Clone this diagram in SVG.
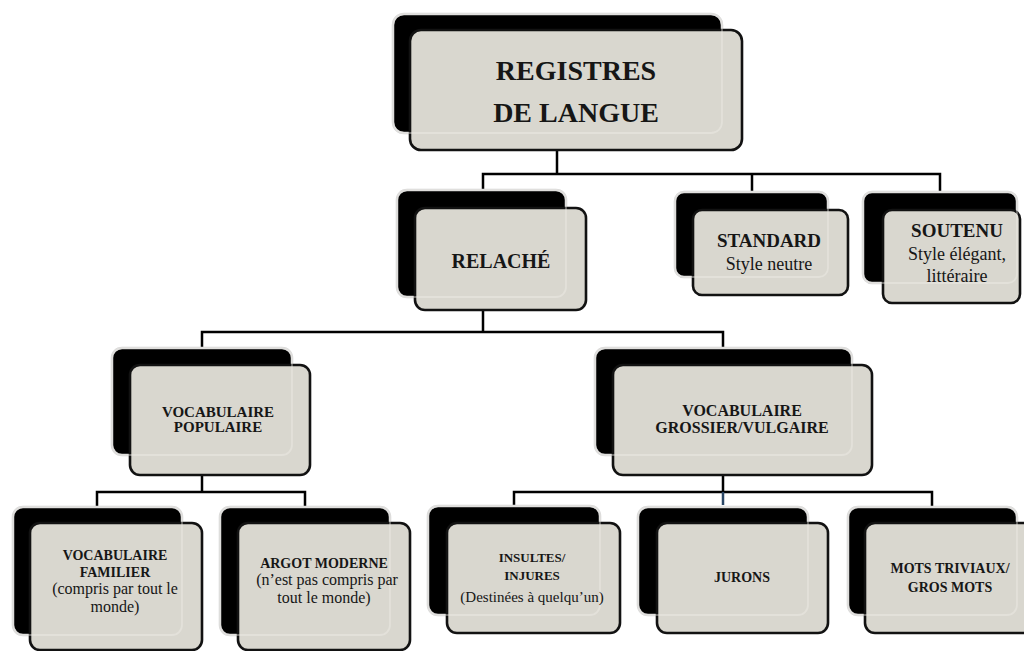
<svg xmlns="http://www.w3.org/2000/svg" width="1024" height="651" viewBox="0 0 1024 651">
<style>
.bk{fill:#000;stroke:#d4d4d4;stroke-width:2.5}
.fr{fill:#d9d7cf;stroke:#121212;stroke-width:2.6}
.hl{fill:none;stroke:#f2f1ec;stroke-opacity:0.4;stroke-width:1.8}
.cn{fill:none;stroke:#000;stroke-width:2.5}
text{font-family:'Liberation Serif','DejaVu Serif',serif;fill:#161616;text-anchor:middle}
.b{font-weight:bold}
</style>
<rect width="1024" height="651" fill="#fff"/>
<g id="connectors">
<path class="cn" d="M557 150V174M483 190V174H940V192M752 174V192"/>
<path class="cn" d="M483 310V332M202 348V332H723V348"/>
<path class="cn" d="M202 475V492M97 507V492H305V507"/>
<path class="cn" d="M723 475V492M514 507V492H932V507"/>
<path d="M723 492V505" stroke="#2b4766" stroke-width="2.5"/>
</g>
<g id="n-registres">
<rect class="bk" x="393" y="14" width="329" height="119" rx="11"/>
<rect class="fr" x="410" y="30" width="332" height="120" rx="11"/>
<rect class="hl" x="393" y="14" width="329" height="119" rx="11"/>
<text class="b" x="576" y="80" font-size="28" font-family="Liberation Serif">REGISTRES</text>
<text class="b" x="576" y="122" font-size="28">DE LANGUE</text>
</g>
<g id="n-relache">
<rect class="bk" x="397" y="190" width="169" height="107" rx="10"/>
<rect class="fr" x="415" y="208" width="171" height="102" rx="10"/>
<rect class="hl" x="397" y="190" width="169" height="107" rx="10"/>
<text class="b" x="501" y="268" font-size="20">RELACHÉ</text>
</g>
<g id="n-standard">
<rect class="bk" x="675" y="192" width="153" height="85" rx="9"/>
<rect class="fr" x="693" y="210" width="155" height="85" rx="9"/>
<rect class="hl" x="675" y="192" width="153" height="85" rx="9"/>
<text class="b" x="769" y="247" font-size="19">STANDARD</text>
<text x="769" y="270" font-size="18">Style neutre</text>
</g>
<g id="n-soutenu">
<rect class="bk" x="863" y="192" width="154" height="91" rx="9"/>
<rect class="fr" x="883" y="210" width="137" height="93" rx="9"/>
<rect class="hl" x="863" y="192" width="154" height="91" rx="9"/>
<text class="b" x="957" y="237" font-size="19">SOUTENU</text>
<text x="957" y="260" font-size="18">Style élégant,</text>
<text x="957" y="282" font-size="18">littéraire</text>
</g>
<g id="n-populaire">
<rect class="bk" x="112" y="348" width="180" height="107" rx="10"/>
<rect class="fr" x="130" y="365" width="180" height="110" rx="10"/>
<rect class="hl" x="112" y="348" width="180" height="107" rx="10"/>
<text class="b" x="218" y="417" font-size="15">VOCABULAIRE</text>
<text class="b" x="218" y="432" font-size="15">POPULAIRE</text>
</g>
<g id="n-grossier">
<rect class="bk" x="595" y="348" width="257" height="107" rx="10"/>
<rect class="fr" x="613" y="365" width="259" height="110" rx="10"/>
<rect class="hl" x="595" y="348" width="257" height="107" rx="10"/>
<text class="b" x="742" y="416" font-size="16">VOCABULAIRE</text>
<text class="b" x="742" y="433" font-size="16">GROSSIER/VULGAIRE</text>
</g>
<g id="n-familier">
<rect class="bk" x="13" y="507" width="169" height="128" rx="10"/>
<rect class="fr" x="30" y="523" width="172" height="127" rx="10"/>
<rect class="hl" x="13" y="507" width="169" height="128" rx="10"/>
<text class="b" x="115" y="560" font-size="14">VOCABULAIRE</text>
<text class="b" x="115" y="577" font-size="14">FAMILIER</text>
<text x="115" y="594" font-size="16">(compris par tout le</text>
<text x="115" y="612" font-size="16">monde)</text>
</g>
<g id="n-argot">
<rect class="bk" x="220" y="507" width="170" height="128" rx="10"/>
<rect class="fr" x="238" y="523" width="172" height="127" rx="10"/>
<rect class="hl" x="220" y="507" width="170" height="128" rx="10"/>
<text class="b" x="324" y="568" font-size="14">ARGOT MODERNE</text>
<text x="327" y="585" font-size="16">(n’est pas compris par</text>
<text x="324" y="603" font-size="16">tout le monde)</text>
</g>
<g id="n-insultes">
<rect class="bk" x="428" y="506" width="172" height="109" rx="10"/>
<rect class="fr" x="447" y="523" width="173" height="110" rx="10"/>
<rect class="hl" x="428" y="506" width="172" height="109" rx="10"/>
<text class="b" x="532" y="562" font-size="13">INSULTES/</text>
<text class="b" x="532" y="580" font-size="13">INJURES</text>
<text x="532" y="602" font-size="15">(Destinées à quelqu’un)</text>
</g>
<g id="n-jurons">
<rect class="bk" x="638" y="507" width="170" height="108" rx="10"/>
<rect class="fr" x="657" y="523" width="171" height="110" rx="10"/>
<rect class="hl" x="638" y="507" width="170" height="108" rx="10"/>
<text class="b" x="742" y="582" font-size="14">JURONS</text>
</g>
<g id="n-mots">
<rect class="bk" x="848" y="507" width="169" height="108" rx="10"/>
<rect class="fr" x="865" y="523" width="172" height="110" rx="10"/>
<rect class="hl" x="848" y="507" width="169" height="108" rx="10"/>
<text class="b" x="950" y="573" font-size="14">MOTS TRIVIAUX/</text>
<text class="b" x="950" y="592" font-size="14">GROS MOTS</text>
</g>
</svg>
